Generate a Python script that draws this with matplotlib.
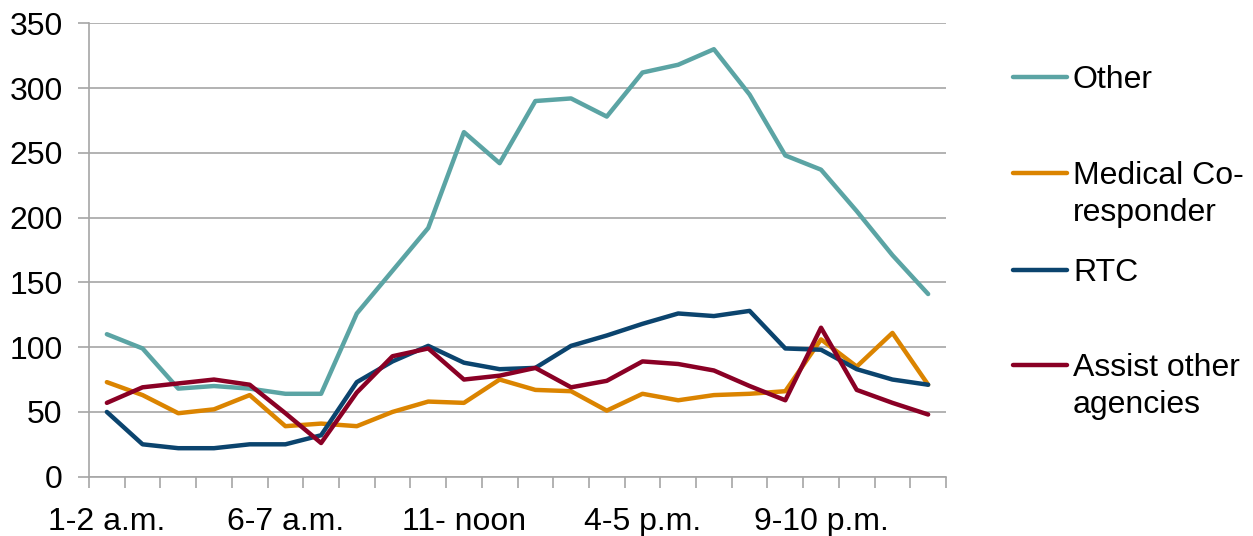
import matplotlib
matplotlib.use("Agg")
import matplotlib.pyplot as plt
from matplotlib.lines import Line2D
import numpy as np

plt.rcParams['font.family'] = ['Liberation Sans', 'DejaVu Sans']

# Hourly call counts, one value per hour starting at 1-2 a.m.
hours = ["1-2 a.m.", "2-3 a.m.", "3-4 a.m.", "4-5 a.m.", "5-6 a.m.", "6-7 a.m.",
         "7-8 a.m.", "8-9 a.m.", "9-10 a.m.", "10-11 a.m.", "11- noon", "noon-1 p.m.",
         "1-2 p.m.", "2-3 p.m.", "3-4 p.m.", "4-5 p.m.", "5-6 p.m.", "6-7 p.m.",
         "7-8 p.m.", "8-9 p.m.", "9-10 p.m.", "10-11 p.m.", "11-midnight", "midnight-1 a.m."]

other = [110, 99, 68, 70, 68, 64, 64, 126, 159, 192, 266, 242,
         290, 292, 278, 312, 318, 330, 295, 248, 237, 205, 171, 141]
medical = [73, 63, 49, 52, 63, 39, 41, 39, 50, 58, 57, 75,
           67, 66, 51, 64, 59, 63, 64, 66, 106, 85, 111, 71]
rtc = [50, 25, 22, 22, 25, 25, 32, 73, 89, 101, 88, 83,
       84, 101, 109, 118, 126, 124, 128, 99, 98, 83, 75, 71]
assist = [57, 69, 72, 75, 71, 49, 26, 65, 93, 99, 75, 78,
          84, 69, 74, 89, 87, 82, 70, 59, 115, 67, 57, 48]

series_names = ["Other", "Medical Co-\nresponder", "RTC", "Assist other\nagencies"]
series_values = [other, medical, rtc, assist]
series_colors = ["#5BA4A4", "#DB8400", "#0B446E", "#8A0025"]

y_ticks = [0, 50, 100, 150, 200, 250, 300, 350]
label_every = 5

FS = 23
LW = 3.2

fig = plt.figure(figsize=(12.53, 5.36), dpi=100)
ax = fig.add_axes([89 / 1253, 1 - 476.7 / 536, (946 - 89) / 1253, (476.7 - 23.3) / 536])

x = np.arange(len(hours))
for vals, col in zip(series_values, series_colors):
    ax.plot(x, vals, color=col, lw=LW, solid_joinstyle='round', solid_capstyle='round',
            zorder=3)

ax.set_xlim(-0.5, len(hours) - 0.5)
ax.set_ylim(0, 350)

grid_col = "#A6A6A6"
ax.set_yticks(y_ticks)
ax.yaxis.grid(True, color=grid_col, lw=1.2)
ax.set_axisbelow(True)

# category labels on every fifth hour, tick marks at category boundaries
ax.set_xticks(x[::label_every])
ax.set_xticklabels([hours[i] for i in x[::label_every]])
ax.set_xticks(np.arange(-0.5, len(hours), 1), minor=True)
ax.tick_params(axis='x', which='major', length=0, pad=22, labelsize=FS)
ax.tick_params(axis='x', which='minor', length=8, width=1.2, color=grid_col)
ax.tick_params(axis='y', length=8, width=1.2, color=grid_col, labelsize=FS, pad=11)

for side in ("top", "right"):
    ax.spines[side].set_visible(False)
for side in ("left", "bottom"):
    ax.spines[side].set_color(grid_col)
    ax.spines[side].set_linewidth(1.2)

# legend drawn at the right of the plot
handle_y = [77, 173, 270, 365]
for name, col, yp in zip(series_names, series_colors, handle_y):
    yf = 1 - yp / 536
    fig.add_artist(Line2D([1013 / 1253, 1067 / 1253], [yf, yf], color=col, lw=LW,
                          solid_capstyle='round', transform=fig.transFigure))
    fig.text(1073 / 1253, yf + 12 / 536, name, fontsize=FS, va='top', ha='left',
             linespacing=1.3, transform=fig.transFigure)

fig.savefig("out.png", dpi=100)
